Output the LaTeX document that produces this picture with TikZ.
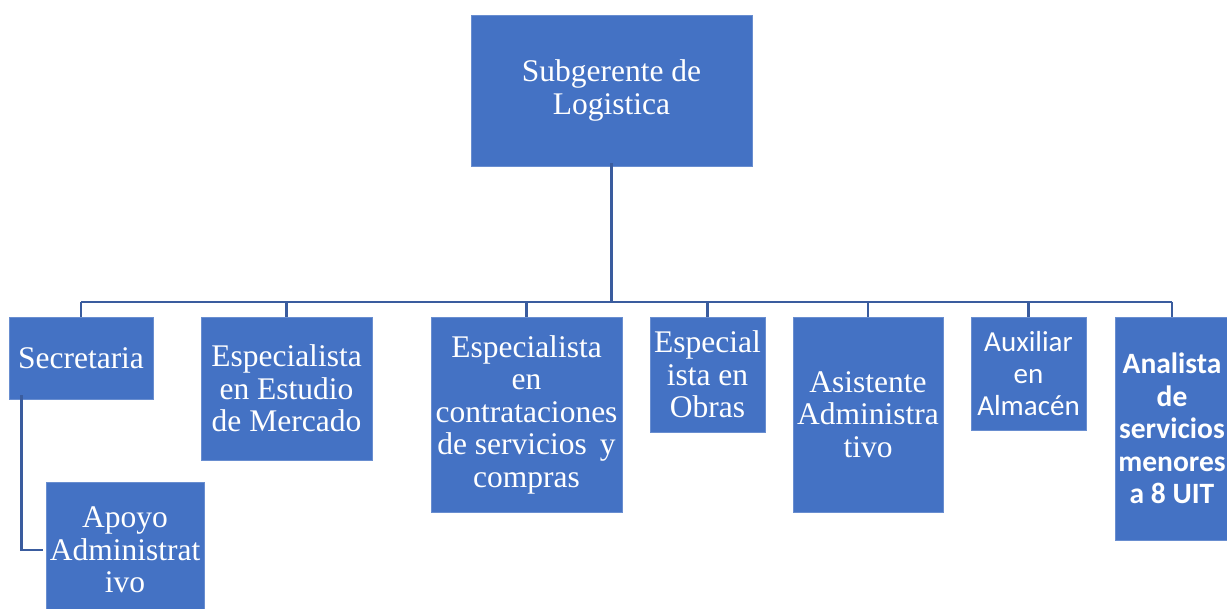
\documentclass[tikz,border=0pt]{standalone}
\usepackage{fontspec}
\setmainfont{Liberation Serif}
\newfontfamily\calfont{Carlito}
\definecolor{boxblue}{HTML}{4472C4}
\definecolor{lineblue}{HTML}{3A5C9E}
\begin{document}
\begin{tikzpicture}[x=1pt,y=-1pt,
  orgbox/.style={fill=boxblue, draw=boxblue!80!white, line width=0.6pt, text=white, align=center, inner sep=0pt,
    font=\fontsize{31.5}{32.5}\selectfont},
  calbox/.style={orgbox, font=\calfont\fontsize{29}{32}\selectfont},
  calbold/.style={orgbox, font=\calfont\bfseries\fontsize{29.5}{32.5}\selectfont},
  conn/.style={draw=lineblue, line width=2.8pt}]
\useasboundingbox (0,0) rectangle (1227,609);
\clip (0,0) rectangle (1227,609);
\node[orgbox, minimum width=281pt, minimum height=151pt] (top) at (611.5,90.5) {Subgerente de\\Logistica};
\node[orgbox, minimum width=144pt, minimum height=82pt] (sec) at (81,358) {Secretaria};
\node[orgbox, minimum width=171pt, minimum height=143pt] (est) at (286.5,388.5) {Especialista\\en Estudio\\de Mercado};
\node[orgbox, minimum width=191pt, minimum height=195pt] (con) at (526.5,414.5) {Especialista\\en\\contrataciones\\de servicios\, y\\compras};
\node[orgbox, minimum width=115pt, minimum height=115pt] (obr) at (707.5,374.5) {Especial\\ista en\\Obras};
\node[orgbox, minimum width=150pt, minimum height=195pt] (asi) at (868,414.5) {Asistente\\Administra\\tivo};
\node[calbox, minimum width=115pt, minimum height=113pt] (aux) at (1028.5,373.5) {Auxiliar\\en\\Almac\'en};
\node[calbold, minimum width=114pt, minimum height=223pt] (ana) at (1172,428.5) {Analista\\de\\servicios\\menores\\a 8 UIT};
\node[orgbox, minimum width=158pt, minimum height=136pt] (apo) at (125,550) {Apoyo\\Administrat\\ivo};
\coordinate (bar) at (611.5,302);
\draw[conn] ([yshift=3pt]top.south) -- (top.south |- bar);
\draw[conn] (sec.north |- bar) -- (ana.north |- bar);
\foreach \n in {sec,est,con,obr,asi,aux,ana}{
  \draw[conn] (\n.north |- bar) -- (\n.north);
}
\draw[conn] ([xshift=13pt,yshift=4pt]sec.south west) |- ([xshift=-3pt]apo.west);
\end{tikzpicture}
\end{document}
